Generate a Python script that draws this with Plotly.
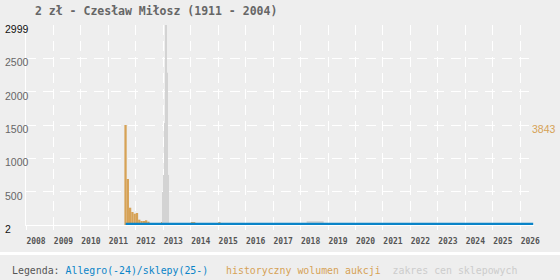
import plotly.graph_objects as go

# ---------------- data ----------------
title_text = "2 zł - Czesław Miłosz (1911 - 2004)"
years = list(range(2008, 2027))

# Allegro/shop price line (zł)
price_x = [2011.63, 2012.5, 2013.5, 2014.5, 2015.5, 2016.5, 2017.5, 2018.5,
           2019.5, 2020.5, 2021.5, 2022.5, 2023.5, 2024.5, 2025.5, 2026.47]
price_y = [9, 9, 10, 9, 9, 9, 9, 9, 9, 9, 9, 9, 9, 9, 9, 9]

# historical auction volume, monthly bins (start of month as decimal year)
vol_month_start = [2011 + 7/12, 2011 + 8/12, 2011 + 9/12, 2011 + 10/12, 2011 + 11/12,
                   2012 + 0/12, 2012 + 1/12, 2012 + 2/12, 2012 + 3/12, 2012 + 4/12,
                   2012 + 5/12, 2013 + 0/12, 2013 + 11/12 - 1, 2014 + 0/12,
                   2014 + 1/12, 2015 + 0/12]
vol_values = [3843, 1768, 665, 500, 434, 461, 204, 154, 154, 180, 128, 120, 110, 110, 110, 110]
vol_max = 3843

# shop price ranges: period start, period end, low, high
shop_start = [2012.96, 2013.0017, 2013.0433, 2013.085, 2013.1267, 2013.1683, 2018.22]
shop_end   = [2013.0017, 2013.0433, 2013.085, 2013.1267, 2013.1683, 2013.21, 2018.84]
shop_low   = [2, 2, 2, 2, 2, 2, 2]
shop_high  = [497, 752, 1532, 2999, 2282, 752, 60]

price_min, price_max = 2, 2999
y_labels = [2999, 2500, 2000, 1500, 1000, 500, 2]
grid_vals = [500, 1000, 1500, 2000, 2500]

# ---------------- styles ----------------
BG = "#eeeeee"
BLUE = "#0a84c8"
ORANGE = "#d6a256"
GRAY = "#d3d3d3"
MONO = "DejaVu Sans Mono"
SANS = "Liberation Sans, Arial, sans-serif"

fig = go.Figure()

# volume bars on main (right, hidden) axis
fig.add_trace(go.Bar(
    x=[s + 1/24 for s in vol_month_start], y=vol_values, width=[1/12] * len(vol_values),
    marker=dict(color=ORANGE, line=dict(width=0)), yaxis="y", showlegend=False,
    hoverinfo="skip"))

# shop price ranges on price axis
fig.add_trace(go.Bar(
    x=[(a + b) / 2 for a, b in zip(shop_start, shop_end)],
    width=[b - a for a, b in zip(shop_start, shop_end)],
    base=shop_low, y=[h - l for h, l in zip(shop_high, shop_low)],
    marker=dict(color=GRAY, line=dict(width=0)), yaxis="y2", showlegend=False,
    hoverinfo="skip"))

# price line
fig.add_trace(go.Scatter(
    x=price_x, y=price_y, mode="lines", line=dict(color=BLUE, width=3.5),
    yaxis="y2", showlegend=False, hoverinfo="skip"))

annotations = []
for v in y_labels:
    col = "#111111" if v in (price_min, price_max) else "#666666"
    annotations.append(dict(
        text=str(v), xref="paper", x=0, xanchor="left", xshift=-23,
        yref="y2", y=v, yanchor="middle", yshift=-4, showarrow=False,
        font=dict(family=SANS, size=10.5, color=col)))

annotations.append(dict(
    text=str(vol_max), xref="paper", x=1, xanchor="left", xshift=-4,
    yref="y", y=vol_max, yanchor="middle", yshift=-4, showarrow=False,
    font=dict(family=SANS, size=10.5, color=ORANGE)))

legend_html = ("<span style='color:#555555'>Legenda: </span>"
               f"<span style='color:{BLUE}'>Allegro(-24)/sklepy(25-)</span>"
               "&nbsp;&nbsp;&nbsp;"
               f"<span style='color:{ORANGE}'>historyczny wolumen aukcji</span>"
               "&nbsp;&nbsp;"
               "<span style='color:#cccccc'>zakres cen sklepowych</span>")
annotations.append(dict(
    text=legend_html, xref="paper", x=0, xanchor="left", xshift=-16,
    yref="paper", y=0, yanchor="middle", yshift=-45, showarrow=False,
    font=dict(family=MONO, size=9.9, color="#555555")))

fig.update_layout(
    width=560, height=280,
    margin=dict(l=26, r=26, t=25, b=55, pad=0),
    paper_bgcolor=BG, plot_bgcolor=BG,
    barmode="overlay",
    title=dict(text=f"<b>{title_text}</b>", xref="container", yref="container",
               x=35/560, xanchor="left", y=1 - 11/280, yanchor="middle",
               font=dict(family=MONO, size=11.5, color="#666666")),
    xaxis=dict(range=[2008, 2026.5], tickvals=years, ticktext=[str(y) for y in years],
               showgrid=True, gridcolor="white", gridwidth=1, griddash="10px,6px",
               showline=True, linecolor="white", linewidth=1,
               ticks="outside", ticklen=4, tickcolor="white", tickwidth=1,
               ticklabelshift=10, ticklabelstandoff=4,
               tickfont=dict(family=MONO, size=8, color="#555555", weight="bold"),
               zeroline=False, fixedrange=True),
    yaxis=dict(range=[0, 2 * vol_max], side="right", showgrid=False,
               showticklabels=False, zeroline=False, showline=False, fixedrange=True),
    yaxis2=dict(range=[price_min, price_max], overlaying="y", side="left",
                tickvals=grid_vals, showticklabels=False,
                showgrid=True, gridcolor="white", gridwidth=1, griddash="10px,7px",
                showline=True, linecolor="white", linewidth=1,
                zeroline=False, fixedrange=True),
    annotations=annotations,
    shapes=[dict(type="rect", xref="paper", yref="paper",
                 x0=-26/508, x1=(560-26)/508, y0=(225-255)/200, y1=(225-252)/200,
                 fillcolor="white", line=dict(width=0), layer="below")],
)

fig.write_html("out.html")
